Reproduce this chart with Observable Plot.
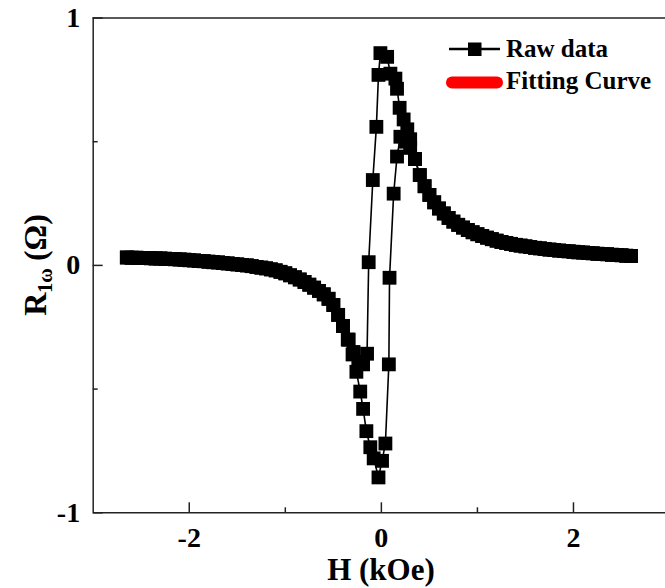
<!DOCTYPE html>
<html><head><meta charset="utf-8">
<script src="https://cdn.jsdelivr.net/npm/d3@7"></script>
<script src="https://cdn.jsdelivr.net/npm/@observablehq/plot@0.6"></script>
<style>
html,body{margin:0;padding:0;background:#fff;}
#wrap{position:relative;width:665px;height:588px;overflow:hidden;background:#fff;}
#legend{position:absolute;left:0;top:0;}
</style></head><body><div id="wrap"></div>
<script>
// Left tail (shared by both sweeps), H in kOe, R in ohm
const leftTailH = [-2.65,-2.60,-2.55,-2.50,-2.45,-2.40,-2.35,-2.30,-2.25,-2.20,-2.15,-2.10,-2.05,-2.00,-1.95,-1.90,-1.85,-1.80,-1.75,-1.70,-1.65,-1.60,-1.55,-1.50,-1.45,-1.40,-1.35,-1.30,-1.25,-1.20,-1.15,-1.10,-1.05,-1.00,-0.95,-0.90,-0.85,-0.80,-0.75,-0.70,-0.65,-0.60,-0.55,-0.50,-0.45,-0.40];
const leftTailR = [0.032,0.031,0.031,0.030,0.030,0.029,0.028,0.028,0.027,0.026,0.025,0.024,0.023,0.021,0.020,0.018,0.017,0.015,0.013,0.012,0.010,0.008,0.006,0.004,0.002,0.000,-0.003,-0.006,-0.009,-0.012,-0.016,-0.020,-0.026,-0.032,-0.040,-0.048,-0.057,-0.067,-0.078,-0.090,-0.103,-0.117,-0.135,-0.160,-0.200,-0.245];
// Right tail (shared)
const rightTailH = [0.35,0.40,0.45,0.50,0.55,0.60,0.65,0.70,0.75,0.80,0.85,0.90,0.95,1.00,1.05,1.10,1.15,1.20,1.25,1.30,1.35,1.40,1.45,1.50,1.55,1.60,1.65,1.70,1.75,1.80,1.85,1.90,1.95,2.00,2.05,2.10,2.15,2.20,2.25,2.30,2.35,2.40,2.45,2.50,2.55,2.60];
const rightTailR = [0.430,0.365,0.320,0.285,0.255,0.230,0.210,0.192,0.177,0.164,0.153,0.143,0.134,0.126,0.119,0.112,0.106,0.100,0.095,0.091,0.087,0.083,0.080,0.077,0.074,0.071,0.069,0.066,0.064,0.062,0.060,0.058,0.057,0.055,0.053,0.052,0.050,0.049,0.047,0.046,0.045,0.043,0.042,0.041,0.039,0.038];
// Sweep up (H increasing) core
const upCoreH = [-0.35,-0.30,-0.26,-0.22,-0.19,-0.156,-0.115,-0.08,-0.03,0.007,0.042,0.078,0.085,0.128,0.163,0.198,0.25,0.30];
const upCoreR = [-0.30,-0.36,-0.43,-0.51,-0.58,-0.67,-0.735,-0.78,-0.857,-0.79,-0.72,-0.40,-0.05,0.29,0.44,0.52,0.50,0.475];
// Sweep down (H decreasing) core
const downCoreH = [0.30,0.27,0.232,0.19,0.163,0.146,0.094,0.06,-0.01,-0.03,-0.052,-0.089,-0.132,-0.149,-0.19,-0.24,-0.29,-0.34];
const downCoreR = [0.51,0.55,0.59,0.637,0.714,0.755,0.775,0.843,0.858,0.77,0.56,0.345,0.013,-0.357,-0.40,-0.39,-0.35,-0.30];

const xTicks = [-2, 0, 2];
const xMinor = [-1, 1];
const yTicks = [-1, 0, 1];
const yMinor = [-0.5, 0.5];
const xDomain = [-3, 2.958];
const yDomain = [-1, 1];

const rows = [];
const push = (H, R, b) => H.forEach((h, i) => rows.push({H: h, R: R[i], branch: b}));
push(leftTailH, leftTailR, "up");
push(upCoreH, upCoreR, "up");
push(rightTailH, rightTailR, "up");
push(rightTailH.slice().reverse(), rightTailR.slice().reverse(), "down");
push(downCoreH, downCoreR, "down");
push(leftTailH.slice().reverse(), leftTailR.slice().reverse(), "down");

const FONT = "'Liberation Serif', 'Times New Roman', serif";
const axisCol = "#222";
const fmt = d => String(d);

const chart = Plot.plot({
  width: 665,
  height: 588,
  marginLeft: 92.7,
  marginRight: 0,
  marginTop: 17.5,
  marginBottom: 75.7,
  style: {fontFamily: FONT, fontSize: "28px", fontWeight: "bold", color: "#000", background: "#fff"},
  x: {domain: xDomain},
  y: {domain: yDomain},
  marks: [
    Plot.ruleY([yDomain[1]], {stroke: axisCol, strokeWidth: 1.5}),
    Plot.ruleY([yDomain[0]], {stroke: axisCol, strokeWidth: 1.5}),
    Plot.ruleX([xDomain[0]], {stroke: axisCol, strokeWidth: 1.5}),
    Plot.axisX(xTicks, {tickSize: -10, tickPadding: 24, tickFormat: fmt, fontSize: 28, fontWeight: "bold", label: null, strokeWidth: 1.5, stroke: axisCol}),
    Plot.axisX(xMinor, {tickSize: -5, tickFormat: () => "", label: null, strokeWidth: 1.5, stroke: axisCol}),
    Plot.axisY(yTicks, {tickSize: -10, tickPadding: 23, tickFormat: fmt, fontSize: 28, fontWeight: "bold", label: null, strokeWidth: 1.5, stroke: axisCol}),
    Plot.axisY(yMinor, {tickSize: -5, tickFormat: () => "", label: null, strokeWidth: 1.5, stroke: axisCol}),
    Plot.line(rows, {x: "H", y: "R", z: "branch", stroke: "#000", strokeWidth: 1.6}),
    Plot.dot(rows, {x: "H", y: "R", symbol: "square", r: 7.8, fill: "#000", stroke: "none"})
  ]
});

const svg = d3.select(chart);
// y-axis title
const yt = svg.append("text")
  .attr("transform", "translate(46,265) rotate(-90)")
  .attr("text-anchor", "middle")
  .attr("font-family", FONT).attr("font-weight", "bold").attr("font-size", 32).attr("fill", "#000");
yt.append("tspan").text("R");
yt.append("tspan").attr("font-size", 20).attr("dy", 6).text("1ω");
yt.append("tspan").attr("dy", -6).attr("dx", 7).text("(Ω)");
// x-axis title
svg.append("text")
  .attr("x", 381).attr("y", 580)
  .attr("text-anchor", "middle")
  .attr("font-family", FONT).attr("font-weight", "bold").attr("font-size", 31).attr("fill", "#000")
  .text("H (kOe)");

const wrap = document.getElementById("wrap");
wrap.appendChild(chart);

// Legend
const legend = d3.select(wrap).append("svg")
  .attr("id", "legend").attr("width", 665).attr("height", 110);
const g = legend.append("g").attr("font-family", FONT).attr("font-weight", "bold").attr("font-size", 25).attr("fill", "#000");
g.append("line").attr("x1", 449).attr("x2", 500).attr("y1", 49).attr("y2", 49).attr("stroke", "#000").attr("stroke-width", 2.4);
g.append("rect").attr("x", 468).attr("y", 42.5).attr("width", 13.5).attr("height", 13.5).attr("fill", "#000");
g.append("text").attr("x", 506).attr("y", 57).text("Raw data");
g.append("line").attr("x1", 452).attr("x2", 497).attr("y1", 82.5).attr("y2", 82.5).attr("stroke", "#ff0000").attr("stroke-width", 12).attr("stroke-linecap", "round");
g.append("text").attr("x", 506).attr("y", 89).text("Fitting Curve");
</script></body></html>
